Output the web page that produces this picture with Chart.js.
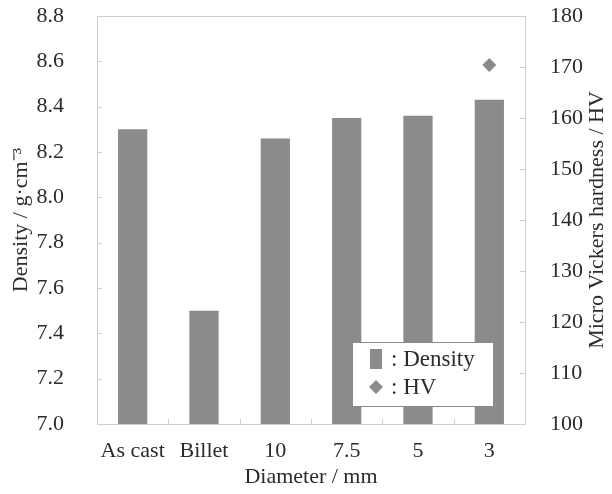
<!DOCTYPE html>
<html>
<head>
<meta charset="utf-8">
<script src="https://cdn.jsdelivr.net/npm/chart.js@4/dist/chart.umd.min.js"></script>
<style>
  html, body { margin: 0; padding: 0; background: #fff; }
  #wrap { width: 612px; height: 494px; }
</style>
</head>
<body>
<div id="wrap"><canvas id="grafico"></canvas></div>
<script>
// Datos
const diametros = ['As cast', 'Billet', '10', '7.5', '5', '3'];
const densidad = [8.30, 7.50, 8.26, 8.35, 8.36, 8.43];
const dureza = [null, null, null, null, null, 170.4];
const ticksDensidad = [7.0, 7.2, 7.4, 7.6, 7.8, 8.0, 8.2, 8.4, 8.6, 8.8];
const ticksDureza = [100, 110, 120, 130, 140, 150, 160, 170, 180];

const fuente = "'Liberation Serif', 'Times New Roman', serif";
const colorTexto = '#2b2b2b';
const colorBarra = '#8b8b8b';
const colorMarco = '#cfcfcf';

// Marco, marcas hacia dentro, título derecho y leyenda
const decoraciones = {
    id: 'decoraciones',
    afterDraw(chart) {
        const ctx = chart.ctx;
        const a = chart.chartArea;
        const x = chart.scales.x;
        const y = chart.scales.y;
        const y2 = chart.scales.y2;
        ctx.save();
        ctx.strokeStyle = colorMarco;
        ctx.lineWidth = 1;
        ctx.strokeRect(a.left + 0.5, a.top + 0.5, a.right - a.left, a.bottom - a.top);

        ctx.beginPath();
        ticksDensidad.forEach(v => {
            const py = Math.round(y.getPixelForValue(v)) + 0.5;
            ctx.moveTo(a.left, py); ctx.lineTo(a.left + 5, py);
        });
        ticksDureza.forEach(v => {
            const py = Math.round(y2.getPixelForValue(v)) + 0.5;
            ctx.moveTo(a.right, py); ctx.lineTo(a.right - 5, py);
        });
        for (let i = 1; i < diametros.length; i++) {
            const px = Math.round((x.getPixelForTick(i - 1) + x.getPixelForTick(i)) / 2) + 0.5;
            ctx.moveTo(px, a.bottom); ctx.lineTo(px, a.bottom - 5);
        }
        ctx.stroke();

        // título del eje derecho (de abajo hacia arriba)
        ctx.fillStyle = colorTexto;
        ctx.font = '22px ' + fuente;
        ctx.textAlign = 'center';
        ctx.textBaseline = 'middle';
        ctx.translate(597, (a.top + a.bottom) / 2);
        ctx.rotate(-Math.PI / 2);
        ctx.fillText('Micro Vickers hardness / HV', 0, 0);
        ctx.setTransform(1, 0, 0, 1, 0, 0);

        // leyenda dentro del área
        const lx = a.right - 173, ly = a.bottom - 82, lw = 141, lh = 64;
        ctx.fillStyle = '#fff';
        ctx.fillRect(lx, ly, lw, lh);
        ctx.strokeStyle = '#8a8a8a';
        ctx.strokeRect(lx + 0.5, ly + 0.5, lw, lh);
        ctx.fillStyle = colorBarra;
        ctx.fillRect(lx + 18, ly + 7, 12, 20);
        ctx.beginPath();
        const dx = lx + 24, dy = ly + 45;
        ctx.moveTo(dx, dy - 7); ctx.lineTo(dx + 7, dy); ctx.lineTo(dx, dy + 7); ctx.lineTo(dx - 7, dy);
        ctx.closePath();
        ctx.fill();
        ctx.fillStyle = colorTexto;
        ctx.textAlign = 'left';
        ctx.font = '23px ' + fuente;
        ctx.fillText(': Density', lx + 39, ly + 18);
        ctx.fillText(': HV', lx + 39, ly + 46);
        ctx.restore();
    }
};

function sinRelleno(s) {
    s.paddingTop = 0;
    s.paddingBottom = 0;
}

const ctx = document.getElementById('grafico').getContext('2d');
const grafico = new Chart(ctx, {
    type: 'bar',
    data: {
        labels: diametros,
        datasets: [{
            label: 'Density',
            data: densidad,
            backgroundColor: colorBarra,
            borderWidth: 0,
            categoryPercentage: 1,
            barPercentage: 0.41,
            yAxisID: 'y',
            order: 2
        }, {
            type: 'line',
            label: 'HV',
            data: dureza,
            showLine: false,
            pointStyle: 'rectRot',
            pointRadius: 7,
            backgroundColor: colorBarra,
            borderWidth: 0,
            yAxisID: 'y2',
            order: 1
        }]
    },
    options: {
        responsive: true,
        maintainAspectRatio: false,
        animation: false,
        layout: { padding: { top: 16 } },
        plugins: {
            legend: { display: false },
            tooltip: { enabled: false }
        },
        scales: {
            x: {
                offset: true,
                grid: { display: false },
                border: { display: false },
                ticks: { color: colorTexto, font: { family: fuente, size: 22 }, padding: 6, maxRotation: 0 },
                title: { display: true, text: 'Diameter / mm', color: colorTexto, font: { family: fuente, size: 22 }, padding: { top: 0 } },
                afterFit(s) { s.height = 70; s.paddingLeft = 0; s.paddingRight = 0; }
            },
            y: {
                position: 'left',
                min: 7.0,
                max: 8.8,
                afterBuildTicks(s) { s.ticks = ticksDensidad.map(v => ({ value: v })); },
                grid: { display: false },
                border: { display: false },
                ticks: {
                    color: colorTexto,
                    font: { family: fuente, size: 22 },
                    padding: 25,
                    callback: v => v.toFixed(1)
                },
                title: { display: true, text: 'Density / g·cm⁻³', color: colorTexto, font: { family: fuente, size: 22 }, padding: { top: 8, bottom: 0 } },
                afterFit(s) { s.width = 97; sinRelleno(s); }
            },
            y2: {
                position: 'right',
                min: 100,
                max: 180,
                afterBuildTicks(s) { s.ticks = ticksDureza.map(v => ({ value: v })); },
                grid: { display: false },
                border: { display: false },
                ticks: { color: colorTexto, font: { family: fuente, size: 22 }, padding: 17 },
                afterFit(s) { s.width = 87; sinRelleno(s); }
            }
        }
    },
    plugins: [decoraciones]
});
</script>
</body>
</html>
